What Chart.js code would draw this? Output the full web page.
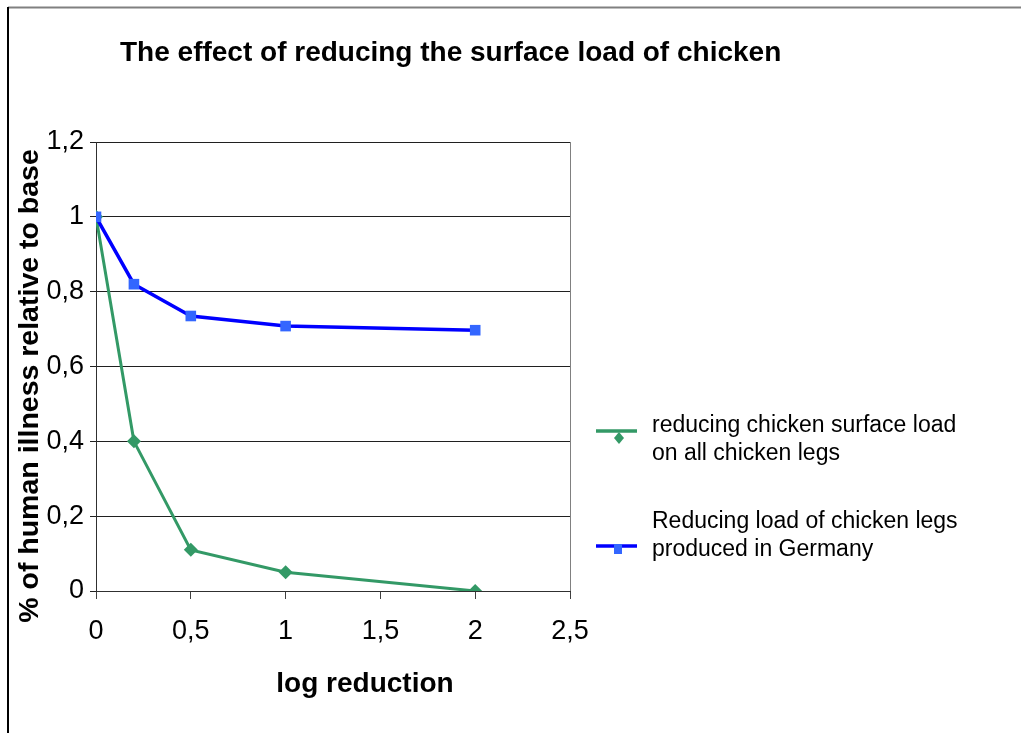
<!DOCTYPE html>
<html>
<head>
<meta charset="utf-8">
<script src="https://cdn.jsdelivr.net/npm/chart.js@4/dist/chart.umd.min.js"></script>
<style>
  html, body { margin: 0; padding: 0; background: #fff; }
  #c { display: block; }
</style>
</head>
<body>
<canvas id="c" width="1021" height="733"></canvas>
<script>
// Log reduction steps (x) and relative human illness (y)
const logReduction = [0, 0.2, 0.5, 1, 2];
const allLegs = [1, 0.4, 0.11, 0.05, 0];
const germanLegs = [1, 0.82, 0.735, 0.708, 0.697];

const seriesLabels = [
  ['reducing chicken surface load', 'on all chicken legs'],
  ['Reducing load of chicken legs', 'produced in Germany']
];
const chartTitle = 'The effect of reducing the surface load of chicken';
const xTitle = 'log reduction';
const yTitle = '% of human illness relative to base';

const xTicks = [0, 0.5, 1, 1.5, 2, 2.5];
const yTicks = [0, 0.2, 0.4, 0.6, 0.8, 1, 1.2];

const FONT = '"Liberation Sans", Arial, sans-serif';
const GREEN = '#339966';
const BLUE_LINE = '#0000ff';
const BLUE_MARK = '#3366ff';

const toPoints = (xs, ys) => xs.map((x, i) => ({ x, y: ys[i] }));
const comma = v => String(Math.round(v * 10) / 10).replace('.', ',');

// Frame, titles and the side legend
const decorations = {
  id: 'decorations',
  beforeDraw(chart) {
    const ctx = chart.ctx;
    ctx.save();
    ctx.fillStyle = '#fff';
    ctx.fillRect(0, 0, chart.width, chart.height);
    ctx.lineWidth = 2;
    ctx.strokeStyle = '#808080';
    ctx.beginPath();
    ctx.moveTo(8, 7.5);
    ctx.lineTo(chart.width, 7.5);
    ctx.stroke();
    ctx.strokeStyle = '#000';
    ctx.beginPath();
    ctx.moveTo(8, 7);
    ctx.lineTo(8, chart.height);
    ctx.stroke();
    ctx.restore();
  },
  afterDraw(chart) {
    const ctx = chart.ctx;
    const area = chart.chartArea;
    ctx.save();
    // right edge of the plot frame
    ctx.strokeStyle = '#808080';
    ctx.lineWidth = 1;
    ctx.beginPath();
    ctx.moveTo(Math.round(area.right) + 0.5, area.top);
    ctx.lineTo(Math.round(area.right) + 0.5, area.bottom);
    ctx.stroke();

    ctx.fillStyle = '#000';
    ctx.font = 'bold 28px ' + FONT;
    ctx.textAlign = 'left';
    ctx.textBaseline = 'alphabetic';
    ctx.fillText(chartTitle, 120, 61);

    ctx.font = 'bold 28px ' + FONT;
    ctx.textAlign = 'center';
    ctx.fillText(xTitle, 365, 692);

    ctx.save();
    ctx.font = 'bold 28.5px ' + FONT;
    ctx.translate(30, 386);
    ctx.rotate(-Math.PI / 2);
    ctx.textBaseline = 'middle';
    ctx.fillText(yTitle, 0, 0);
    ctx.restore();

    // legend
    const ds = chart.data.datasets;
    const entries = [
      { d: ds[0], lineY: 431, mark: 'diamond', markY: 438, textY: [432, 460] },
      { d: ds[1], lineY: 546, mark: 'square', markY: 549, textY: [528, 556] }
    ];
    ctx.font = '23px ' + FONT;
    ctx.textAlign = 'left';
    ctx.textBaseline = 'alphabetic';
    entries.forEach((e, i) => {
      ctx.strokeStyle = e.d.borderColor;
      ctx.lineWidth = 3.5;
      ctx.beginPath();
      ctx.moveTo(596, e.lineY);
      ctx.lineTo(637, e.lineY);
      ctx.stroke();
      ctx.fillStyle = e.d.pointBackgroundColor;
      ctx.beginPath();
      if (e.mark === 'diamond') {
        ctx.moveTo(619, e.markY - 6);
        ctx.lineTo(624, e.markY);
        ctx.lineTo(619, e.markY + 6);
        ctx.lineTo(614, e.markY);
        ctx.closePath();
      } else {
        ctx.rect(614, e.markY - 5, 8, 10);
      }
      ctx.fill();
      ctx.fillStyle = '#000';
      seriesLabels[i].forEach((t, j) => ctx.fillText(t, 652, e.textY[j]));
    });
    ctx.restore();
  }
};

new Chart(document.getElementById('c'), {
  type: 'line',
  data: {
    datasets: [
      {
        label: seriesLabels[0].join(' '),
        data: toPoints(logReduction, allLegs),
        borderColor: GREEN,
        backgroundColor: GREEN,
        pointBackgroundColor: GREEN,
        pointBorderColor: GREEN,
        pointStyle: 'rectRot',
        pointRadius: 7,
        pointBorderWidth: 0,
        borderWidth: 3,
        tension: 0,
        order: 2
      },
      {
        label: seriesLabels[1].join(' '),
        data: toPoints(logReduction, germanLegs),
        borderColor: BLUE_LINE,
        backgroundColor: BLUE_MARK,
        pointBackgroundColor: BLUE_MARK,
        pointBorderColor: BLUE_MARK,
        pointStyle: 'rect',
        pointRadius: 7.5,
        pointBorderWidth: 0,
        borderWidth: 3.5,
        tension: 0,
        order: 1
      }
    ]
  },
  options: {
    responsive: false,
    animation: false,
    events: [],
    layout: { padding: { left: 12, top: 142, right: 451, bottom: 0 } },
    plugins: {
      legend: { display: false },
      title: { display: false },
      tooltip: { enabled: false }
    },
    scales: {
      x: {
        type: 'linear',
        min: 0,
        max: 2.5,
        afterBuildTicks: s => { s.ticks = xTicks.map(v => ({ value: v })); },
        afterFit: s => { s.height = 733 - 591; },
        ticks: {
          callback: v => comma(v),
          color: '#000',
          font: { family: FONT, size: 27 },
          padding: 16,
          maxRotation: 0
        },
        grid: { drawOnChartArea: false, tickLength: 8, color: '#404040', lineWidth: 1 },
        border: { color: '#303030', width: 1 }
      },
      y: {
        type: 'linear',
        min: 0,
        max: 1.2,
        afterBuildTicks: s => { s.ticks = yTicks.map(v => ({ value: v })); },
        afterFit: s => { s.width = 96 - 12; },
        ticks: {
          callback: v => comma(v),
          color: '#000',
          font: { family: FONT, size: 27 },
          padding: 6
        },
        grid: { tickLength: 6, color: '#202020', lineWidth: 1 },
        border: { color: '#303030', width: 1 }
      }
    }
  },
  plugins: [decorations]
});
</script>
</body>
</html>
